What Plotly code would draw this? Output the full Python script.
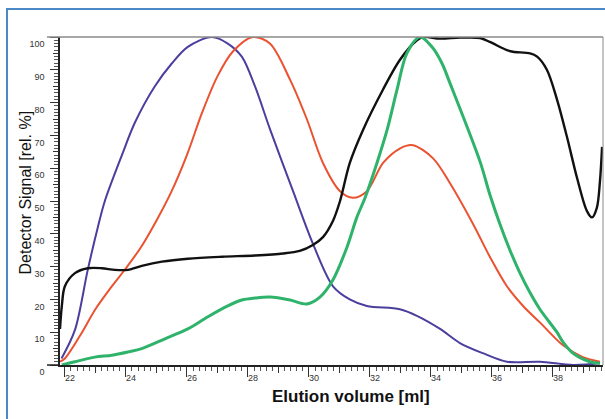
import plotly.graph_objects as go

# ---- data ----
blue_x = [21.89, 22.33, 22.75, 23.08, 23.31, 23.87, 24.30, 24.95, 25.51, 26.03, 26.82, 27.34, 27.80,
          28.23, 28.72, 29.48, 30.13, 30.79, 31.34, 31.90, 32.98, 33.54, 34.30, 34.95, 35.70, 36.49,
          37.57, 38.66, 39.54]
blue_y = [2, 10.7, 29, 42, 50, 64, 74, 85, 92, 97, 100, 98, 94, 85, 72, 53, 37, 24, 20, 18, 17, 15,
          11, 6.7, 3.6, 1, 1, 0, 0.5]

red_x = [21.84, 22.00, 22.50, 23.00, 23.50, 24.00, 24.50, 25.00, 25.50, 26.00, 26.50, 27.00, 27.50,
         28.16, 28.72, 29.38, 29.93, 30.46, 31.02, 31.44, 31.90, 32.43, 32.98, 33.41, 34.07, 34.62,
         35.38, 35.93, 36.49, 37.02, 37.57, 38.33, 38.98, 39.54]
red_y = [1, 2, 9, 17, 23.5, 29.5, 36, 44, 53, 64, 77, 88, 95.5, 100, 98, 87, 75, 61.6, 53, 51, 53,
         61.6, 66, 67, 63, 55.5, 43, 33, 24, 18, 13, 6, 2.4, 1]

black_x = [21.84, 21.90, 22.00, 22.33, 22.75, 23.21, 23.64, 24.07, 24.52, 25.18, 26.03, 27.15, 28.23,
           29.15, 29.70, 30.13, 30.46, 30.79, 31.02, 31.34, 31.77, 32.43, 32.98, 33.54, 33.74, 34.30,
           34.95, 35.61, 35.93, 36.49, 36.69, 37.25, 37.48, 37.80, 38.13, 38.46, 38.79, 39.11, 39.28,
           39.44, 39.54, 39.61]
black_y = [11, 18, 24, 28, 29.5, 29.5, 29, 29, 30.2, 31.5, 32.4, 33.0, 33.4, 34.0, 34.8, 36.6, 39, 44,
           50, 61.6, 71.6, 84, 93, 99, 100, 99.5, 99.8, 99.7, 98.5, 96, 95.5, 95, 94, 90, 81, 69.5,
           57, 47, 45, 48, 56, 66.5]

green_x = [21.90, 22.33, 22.98, 23.54, 24.07, 24.52, 25.28, 26.03, 26.69, 27.34, 27.80, 28.23, 28.72,
           29.38, 29.93, 30.36, 30.79, 31.25, 31.57, 31.84, 32.23, 32.56, 32.89, 33.21, 33.64, 34.03,
           34.36, 34.62, 35.61, 35.93, 36.26, 36.59, 36.92, 37.25, 37.57, 38.13, 38.33, 38.66, 39.21,
           39.54]
green_y = [0, 1, 2.4, 3, 4, 5, 8, 11, 14.7, 18, 19.8, 20.4, 20.7, 19.8, 18.6, 20.7, 26, 36, 45, 51,
           61.6, 71.6, 84, 95, 100, 97, 92, 86, 62, 52, 43, 35, 28, 22, 17, 10, 7, 3.6, 1, 0.5]

x_ticks = [22, 24, 26, 28, 30, 32, 34, 36, 38]
y_ticks = [0, 10, 20, 30, 40, 50, 60, 70, 80, 90, 100]
x_mid_ticks = [23, 25, 27, 29, 31, 33, 35, 37, 39]
y_mid_ticks = [5, 15, 25, 35, 45, 55, 65, 75, 85, 95]

X_RANGE = [21.84, 39.64]
Y_RANGE = [0, 100]

FONT = "Arial, Liberation Sans, sans-serif"

fig = go.Figure()
series = [
    (blue_x, blue_y, "#4b3f9e", 2),
    (red_x, red_y, "#ea5230", 2),
    (black_x, black_y, "#111111", 2.4),
    (green_x, green_y, "#2fb36b", 3),
]
for xs, ys, col, w in series:
    fig.add_trace(go.Scatter(x=xs, y=ys, mode="lines",
                             line=dict(color=col, width=w, shape="spline", smoothing=0.9),
                             showlegend=False, hoverinfo="skip"))

# plot area in pixels: x 60..603, y 37..365
L, R, T, B = 60, 603, 37, 365
W, H = 605, 419
def px(x):
    return (x - L) / (R - L)
def py(y):
    return (B - y) / (B - T)

fig.update_layout(
    width=W, height=H,
    margin=dict(l=L, r=W - R, t=T, b=H - B, autoexpand=False),
    paper_bgcolor="white", plot_bgcolor="white",
    font=dict(family=FONT, color="#222"),
    xaxis=dict(range=X_RANGE, tickvals=x_ticks, ticktext=[str(v) for v in x_ticks],
               ticks="outside", ticklen=10, tickwidth=1, tickcolor="#333",
               minor=dict(dtick=0.2, tick0=22, ticks="outside", ticklen=4, tickcolor="#555", showgrid=False),
               showline=True, linecolor="#222", linewidth=1.5, mirror=False, automargin=False,
               showgrid=False, zeroline=False, tickfont=dict(size=9, color="#333"),
               ticklabelshift=5, ticklabelstandoff=-7),
    yaxis=dict(range=Y_RANGE, tickvals=y_ticks, ticktext=[str(v) for v in y_ticks],
               ticks="outside", ticklen=8, tickwidth=1, tickcolor="#333",
               minor=dict(dtick=1, tick0=0, ticks="outside", ticklen=4, tickcolor="#555", showgrid=False),
               showline=True, linecolor="#222", linewidth=1.5, mirror=False, automargin=False,
               showgrid=False, zeroline=False, tickfont=dict(size=9, color="#333"),
               ticklabelshift=7, ticklabelstandoff=4),
    xaxis2=dict(range=X_RANGE, overlaying="x", anchor="y", side="bottom", tickvals=x_mid_ticks,
                showticklabels=False, ticks="outside", ticklen=7, tickcolor="#333", automargin=False,
                showgrid=False, zeroline=False, showline=False),
    yaxis2=dict(range=Y_RANGE, overlaying="y", anchor="x", side="left", tickvals=y_mid_ticks,
                showticklabels=False, ticks="outside", ticklen=6, tickcolor="#333", automargin=False,
                showgrid=False, zeroline=False, showline=False),
)

# invisible trace so the overlay axes are drawn
fig.add_trace(go.Scatter(x=[], y=[], xaxis="x2", yaxis="y2", showlegend=False))

shapes = [
    dict(type="line", xref="paper", yref="paper", x0=px(47), x1=1, y0=1, y1=1,
         line=dict(color="#8a8a8a", width=1.5)),
    dict(type="line", xref="paper", yref="paper", x0=px(47), x1=0, y0=0, y1=0,
         line=dict(color="#222", width=1.5)),
    dict(type="line", xref="paper", yref="paper", x0=1, x1=1, y0=0, y1=1,
         line=dict(color="#8a8a8a", width=1)),
    dict(type="rect", xref="paper", yref="paper", x0=px(7), x1=px(640), y0=py(460), y1=py(9),
         line=dict(color="#4a88c8", width=2), fillcolor="rgba(0,0,0,0)", layer="above"),
]
fig.update_layout(shapes=shapes)

fig.add_annotation(text="Elution volume [ml]", xref="paper", yref="paper",
                   x=px(351), y=py(408), showarrow=False,
                   font=dict(family=FONT, size=17, color="#111", weight="bold"))
fig.add_annotation(text="Detector Signal [rel. %]", xref="paper", yref="paper",
                   x=px(14), y=py(193), showarrow=False, textangle=-90,
                   font=dict(family=FONT, size=16, color="#111"))

fig.write_html("out.html", config={"displayModeBar": False},
               post_script="document.body.style.margin='0';document.body.style.overflow='hidden';")
